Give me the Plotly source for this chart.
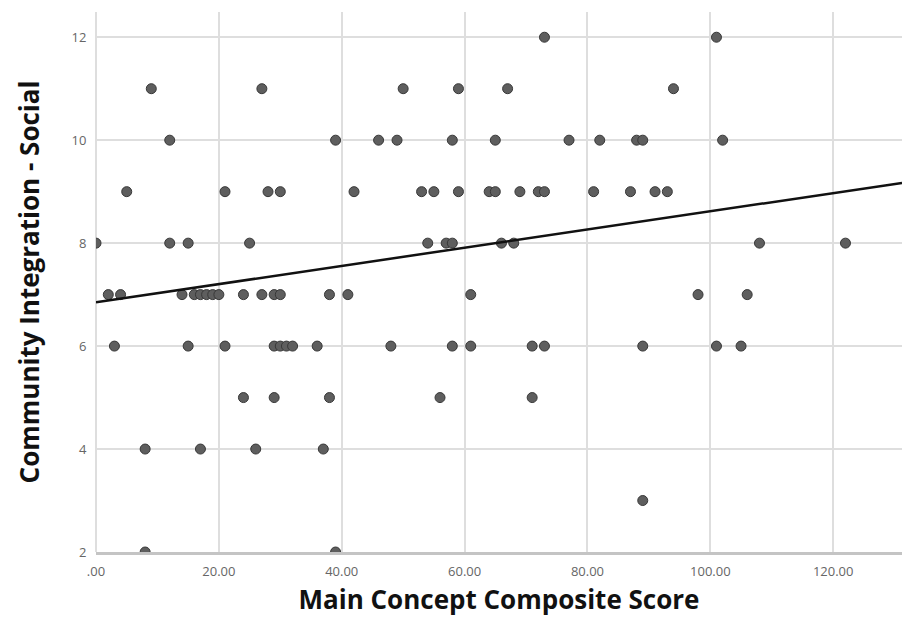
import plotly.graph_objects as go

# Data (x = Main Concept Composite Score, y = Community Integration - Social)
x_y12 = [73, 101]
x_y11 = [9, 27, 50, 59, 67, 94]
x_y10 = [12, 39, 46, 49, 58, 65, 77, 82, 88, 89, 102]
x_y9 = [5, 21, 28, 30, 42, 53, 55, 59, 64, 65, 69, 72, 73, 81, 87, 91, 93]
x_y8 = [0, 12, 15, 25, 54, 57, 58, 66, 68, 108, 122]
x_y7 = [2, 4, 14, 16, 17, 18, 19, 20, 24, 27, 29, 30, 38, 41, 61, 98, 106]
x_y6 = [3, 15, 21, 29, 30, 31, 32, 36, 48, 58, 61, 71, 73, 89, 101, 105]
x_y5 = [24, 29, 38, 56, 71]
x_y4 = [8, 17, 26, 37]
x_y3 = [89]
x_y2 = [8, 39]

rows = {12: x_y12, 11: x_y11, 10: x_y10, 9: x_y9, 8: x_y8, 7: x_y7,
        6: x_y6, 5: x_y5, 4: x_y4, 3: x_y3, 2: x_y2}
xs, ys = [], []
for yv, xl in rows.items():
    xs += xl
    ys += [yv] * len(xl)

# Fit line endpoints
fit_x = [0, 131.2]
fit_y = [6.85, 9.17]

x_ticks = [0, 20, 40, 60, 80, 100, 120]
x_tick_labels = [".00", "20.00", "40.00", "60.00", "80.00", "100.00", "120.00"]
y_ticks = [2, 4, 6, 8, 10, 12]

fig = go.Figure()
fig.add_trace(go.Scatter(
    x=xs, y=ys, mode="markers",
    marker=dict(size=10, color="#5e5e5e", line=dict(color="#383838", width=1)),
    showlegend=False, cliponaxis=True))
fig.add_trace(go.Scatter(
    x=fit_x, y=fit_y, mode="lines",
    line=dict(color="#111111", width=2.5), showlegend=False))

fig.update_layout(
    width=902, height=625,
    margin=dict(l=96, r=0, t=12, b=73),
    paper_bgcolor="white", plot_bgcolor="white",
    font=dict(family="Open Sans", color="#555555"),
)
fig.update_xaxes(
    range=[0, 131.2], tickvals=x_ticks, ticktext=x_tick_labels,
    showgrid=True, gridcolor="#dedede", gridwidth=1.5,
    zeroline=True, zerolinecolor="#dedede", zerolinewidth=1.5,
    showline=True, linecolor="#c4c4c4", linewidth=3,
    ticks="outside", ticklen=5, tickcolor="rgba(0,0,0,0)",
    tickfont=dict(size=13, color="#666666"),
    title=dict(text="Main Concept Composite Score", standoff=13,
               font=dict(size=26, color="#111111", family="Open Sans", weight="bold")),
)
fig.update_yaxes(
    range=[2, 12.49], tickvals=y_ticks,
    showgrid=True, gridcolor="#dedede", gridwidth=1.5,
    zeroline=False, showline=False,
    ticks="outside", ticklen=6, tickcolor="rgba(0,0,0,0)",
    tickfont=dict(size=13, color="#666666"),
    title=dict(text="Community Integration - Social", standoff=24,
               font=dict(size=26, color="#111111", family="Open Sans", weight="bold")),
)

fig.write_html("out.html")
